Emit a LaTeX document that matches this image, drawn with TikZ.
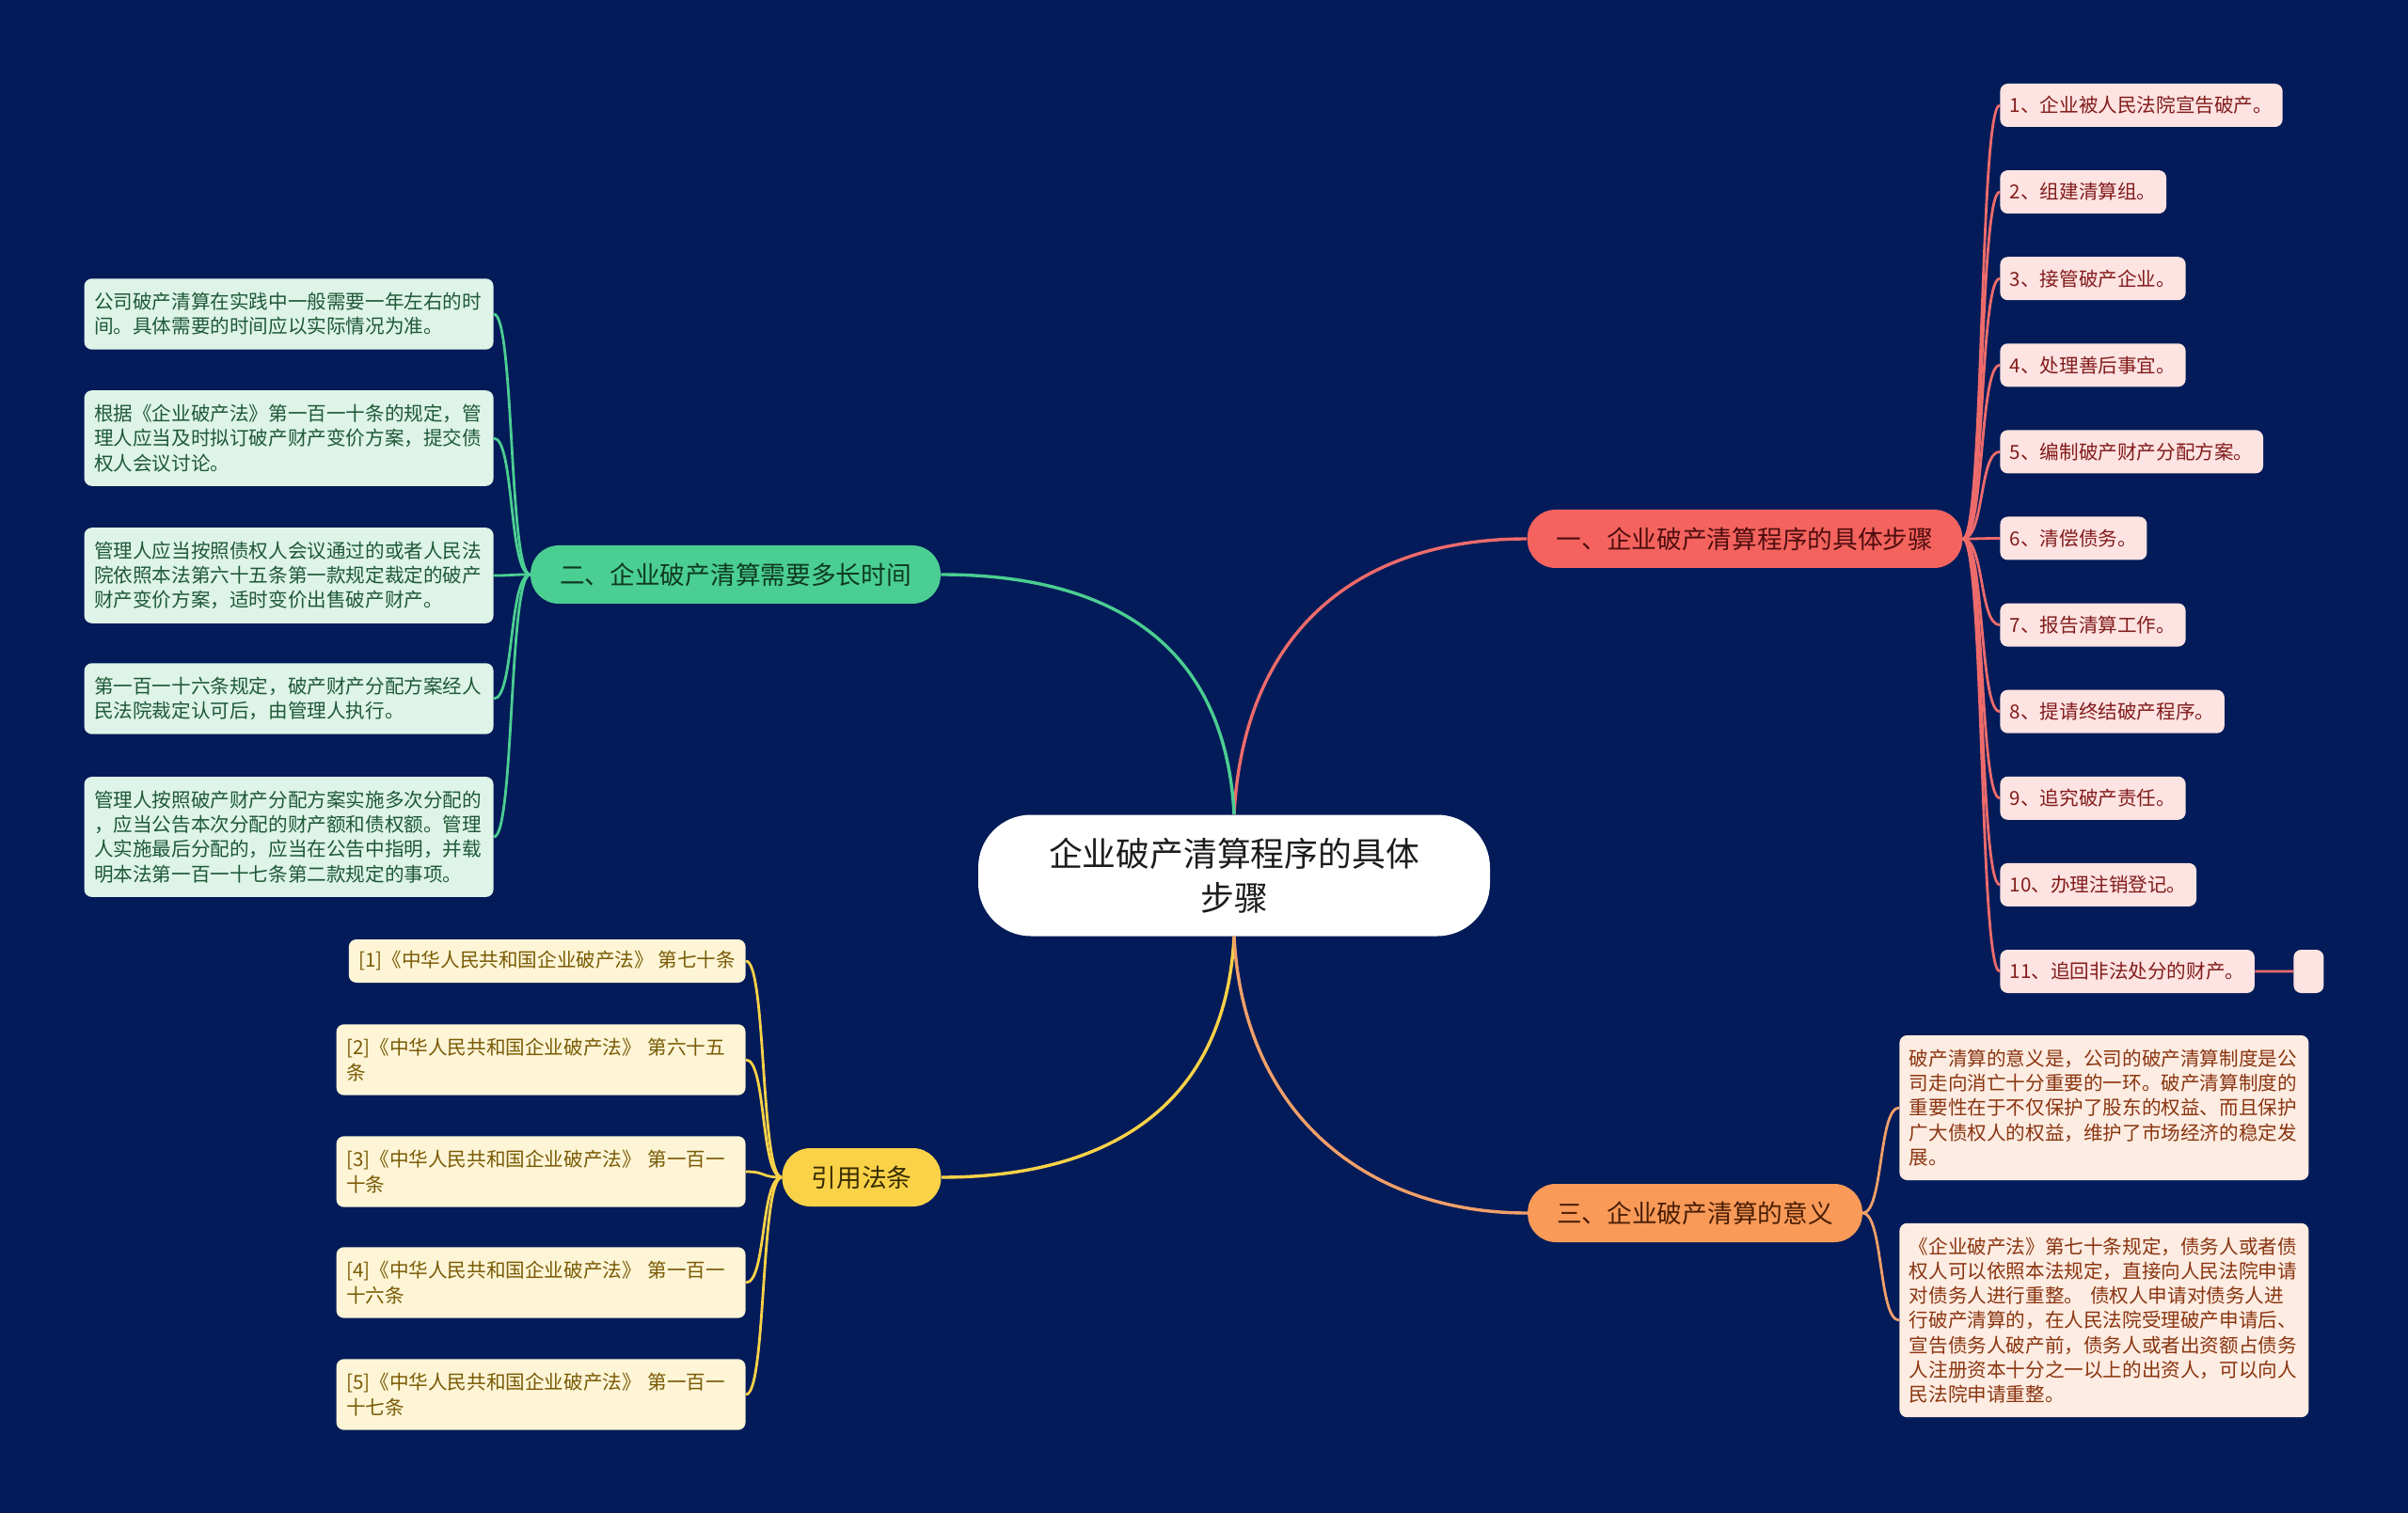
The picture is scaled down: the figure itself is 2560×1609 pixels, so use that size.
\documentclass[tikz,border=0pt]{standalone}
\usepackage{fontspec}
\usepackage{tikz}
\newfontfamily\cjk{Noto Sans CJK SC}
\definecolor{bgNavy}{HTML}{031B58}
\definecolor{hubText}{HTML}{1C1C1C}
\definecolor{redMain}{HTML}{F5635F}
\definecolor{redLine}{HTML}{EE6B6B}
\definecolor{redDark}{HTML}{4E0E0E}
\definecolor{redLeaf}{HTML}{FDE3E1}
\definecolor{redText}{HTML}{821C1C}
\definecolor{greenMain}{HTML}{4BCE92}
\definecolor{greenDark}{HTML}{0E3A22}
\definecolor{greenLeaf}{HTML}{DEF4E8}
\definecolor{greenText}{HTML}{1E5838}
\definecolor{yellowMain}{HTML}{FAD248}
\definecolor{yellowDark}{HTML}{382C00}
\definecolor{yellowLeaf}{HTML}{FDF5D6}
\definecolor{yellowText}{HTML}{7A5A05}
\definecolor{orangeMain}{HTML}{F99A58}
\definecolor{orangeLine}{HTML}{F2A06A}
\definecolor{orangeDark}{HTML}{4A1E05}
\definecolor{orangeLeaf}{HTML}{FDECE2}
\definecolor{orangeText}{HTML}{8A3510}

\begin{document}
\begin{tikzpicture}[x=0.5pt, y=-0.5pt,
    hub/.style={fill=white, text=hubText, rounded corners=28pt, minimum width=272pt, minimum height=64.5pt, align=center, font=\cjk\fontsize{17.9}{23.5}\selectfont},
    topic/.style={rounded corners=15pt, minimum height=31pt, inner xsep=15.5pt, font=\cjk\fontsize{13.35}{16}\selectfont},
    leaf/.style={rounded corners=4pt, inner xsep=5.25pt, inner ysep=2pt, align=left, font=\cjk\fontsize{10.3}{13.1}\selectfont},
    para/.style={leaf, text width=207pt, minimum height={13.1pt*#1+11.5pt}},
    rstep/.style={leaf, fill=redLeaf, text=redText, minimum height=23pt},
    gnote/.style={para=#1, fill=greenLeaf, text=greenText},
    ycite/.style={para=#1, fill=yellowLeaf, text=yellowText},
    onote/.style={para=#1, fill=orangeLeaf, text=orangeText},
    limb/.style={line width=1.7pt},
    twig/.style={line width=1.4pt}]

    \useasboundingbox (0,0) rectangle (2560,1609);
    \fill[bgNavy] (0,0) rectangle (2560,1609);

    \node[hub] (hub) at (1312,931) {企业破产清算程序的具体\\步骤};

    \node[topic, fill=redMain, text=redDark] (one) at (1855,573) {一、企业破产清算程序的具体步骤};
    \node[topic, fill=greenMain, text=greenDark] (two) at (782,611) {二、企业破产清算需要多长时间};
    \node[topic, fill=yellowMain, text=yellowDark] (cite) at (916,1252) {引用法条};
    \node[topic, fill=orangeMain, text=orangeDark] (three) at (1802,1290) {三、企业破产清算的意义};

    \draw[limb, redLine] (hub.north) .. controls +(10,-190) and +(-185,0) .. (one.west);
    \draw[limb, greenMain] (hub.north) .. controls +(-10,-190) and +(170,0) .. (two.east);
    \draw[limb, yellowMain] (hub.south) .. controls +(-10,190) and +(165,0) .. (cite.east);
    \draw[limb, orangeLine] (hub.south) .. controls +(10,190) and +(-170,0) .. (three.west);

    % steps
    \foreach \i/\t in {1/1、企业被人民法院宣告破产。, 2/2、组建清算组。, 3/3、接管破产企业。,
        4/4、处理善后事宜。, 5/5、编制破产财产分配方案。, 6/6、清偿债务。, 7/7、报告清算工作。,
        8/8、提请终结破产程序。, 9/9、追究破产责任。, 10/10、办理注销登记。, 11/11、追回非法处分的财产。} {
        \node[rstep, anchor=west] (s\i) at (2126,{112+92.1*(\i-1)}) {\t};
        \draw[twig, redLine] (one.east) .. controls +(23,0) and +(-22,0) .. (s\i.west);
    }
    \node[rstep, minimum width=16pt, inner xsep=0pt, anchor=west] (blank) at (2438,1033) {};
    \draw[twig, redLine] (s11) -- (blank);

    % how long
    \node[gnote=2, anchor=east] (g1) at (525,334) {公司破产清算在实践中一般需要一年左右的时\\间。具体需要的时间应以实际情况为准。};
    \node[gnote=3, anchor=east] (g2) at (525,466) {根据《企业破产法》第一百一十条的规定，管\\理人应当及时拟订破产财产变价方案，提交债\\权人会议讨论。};
    \node[gnote=3, anchor=east] (g3) at (525,612) {管理人应当按照债权人会议通过的或者人民法\\院依照本法第六十五条第一款规定裁定的破产\\财产变价方案，适时变价出售破产财产。};
    \node[gnote=2, anchor=east] (g4) at (525,743) {第一百一十六条规定，破产财产分配方案经人\\民法院裁定认可后，由管理人执行。};
    \node[gnote=4, anchor=east] (g5) at (525,890) {管理人按照破产财产分配方案实施多次分配的\\，应当公告本次分配的财产额和债权额。管理\\人实施最后分配的，应当在公告中指明，并载\\明本法第一百一十七条第二款规定的事项。};
    \foreach \i in {1,...,5}
        \draw[twig, greenMain] (two.west) .. controls +(-23,0) and +(22,0) .. (g\i.east);

    % references
    \node[leaf, fill=yellowLeaf, text=yellowText, minimum height=23pt, anchor=east] (c1) at (793,1022) {[1]《中华人民共和国企业破产法》 第七十条};
    \node[ycite=2, anchor=east] (c2) at (793,1127) {[2]《中华人民共和国企业破产法》 第六十五\\条};
    \node[ycite=2, anchor=east] (c3) at (793,1246) {[3]《中华人民共和国企业破产法》 第一百一\\十条};
    \node[ycite=2, anchor=east] (c4) at (793,1364) {[4]《中华人民共和国企业破产法》 第一百一\\十六条};
    \node[ycite=2, anchor=east] (c5) at (793,1483) {[5]《中华人民共和国企业破产法》 第一百一\\十七条};
    \foreach \i in {1,...,5}
        \draw[twig, yellowMain] (cite.west) .. controls +(-23,0) and +(22,0) .. (c\i.east);

    % meaning
    \node[onote=5, anchor=west] (o1) at (2019,1178) {破产清算的意义是，公司的破产清算制度是公\\司走向消亡十分重要的一环。破产清算制度的\\重要性在于不仅保护了股东的权益、而且保护\\广大债权人的权益，维护了市场经济的稳定发\\展。};
    \node[onote=7, anchor=west] (o2) at (2019,1404) {《企业破产法》第七十条规定，债务人或者债\\权人可以依照本法规定，直接向人民法院申请\\对债务人进行重整。 债权人申请对债务人进\\行破产清算的，在人民法院受理破产申请后、\\宣告债务人破产前，债务人或者出资额占债务\\人注册资本十分之一以上的出资人，可以向人\\民法院申请重整。};
    \foreach \i in {1,2}
        \draw[twig, orangeLine] (three.east) .. controls +(22,0) and +(-22,0) .. (o\i.west);
\end{tikzpicture}
\end{document}
